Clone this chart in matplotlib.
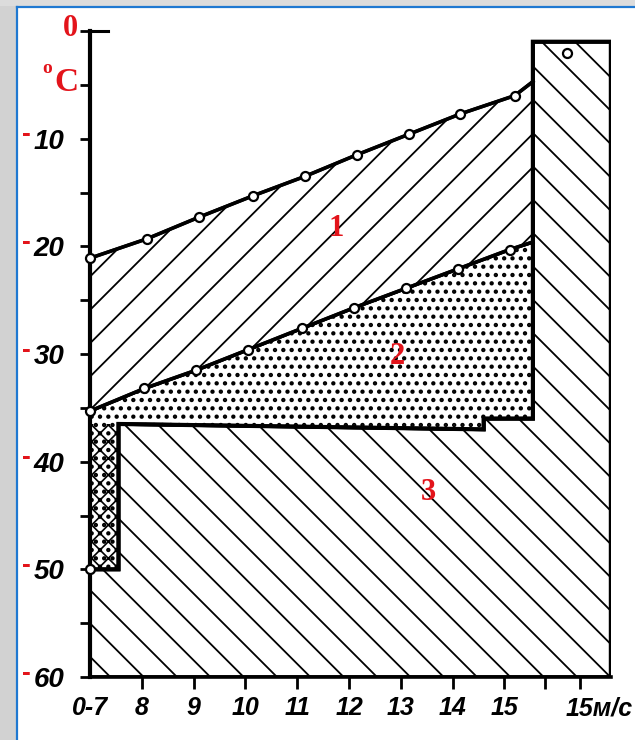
import matplotlib
matplotlib.use("Agg")
import matplotlib.pyplot as plt
import matplotlib.transforms as mtransforms
from matplotlib.patches import Rectangle, Polygon
from matplotlib.lines import Line2D
import numpy as np

# ---------------- data ----------------
# upper boundary (line 1) : wind speed (m/s) vs temperature (deg C)
curve1_x = [7.0, 8.1, 9.1, 10.15, 11.15, 12.15, 13.15, 14.15, 15.2]
curve1_y = [-21.1, -19.3, -17.3, -15.3, -13.5, -11.5, -9.6, -7.7, -6.0]
curve1_end = (15.55, -4.7)

# lower boundary (line 2)
curve2_x = [7.0, 8.05, 9.05, 10.05, 11.1, 12.1, 13.1, 14.1, 15.1]
curve2_y = [-35.3, -33.2, -31.5, -29.6, -27.6, -25.7, -23.9, -22.1, -20.3]
curve2_end = (15.55, -19.6)

# zone 3 outline
zone3_x = [7.0, 7.0, 7.55, 7.55, 14.6, 14.6, 15.55, 15.55, 17.05, 17.05]
zone3_y = [-60.0, -50.0, -50.0, -36.5, -37.0, -36.0, -36.0, -1.0, -1.0, -60.0]

# single marked points
extra_x = [7.0, 16.2]
extra_y = [-50.0, -2.0]

# axis ticks / labels
y_major = [0, -10, -20, -30, -40, -50, -60]
y_minor = [-5, -15, -25, -35, -45, -55]
y_labels = ["", "10", "20", "30", "40", "50", "60"]
x_ticks = [8, 9, 10, 11, 12, 13, 14, 15, 15.78, 16.46]
x_labels = ["8", "9", "10", "11", "12", "13", "14", "15", "", ""]
first_label = "0-7"
last_label = "15м/с"
zone_labels = ["1", "2", "3"]
zone_label_x = [11.75, 12.93, 13.54]
zone_label_y = [-18.3, -30.2, -42.9]

RED = "#e3141b"
NUM_FONT = dict(family=["Liberation Sans Narrow", "Liberation Sans", "DejaVu Sans"],
                style="italic", weight="bold")
SERIF_RED = dict(family=["Liberation Serif", "DejaVu Serif"], weight="bold", color=RED)

W, H = 635, 740
fig = plt.figure(figsize=(W / 100, H / 100), dpi=100)
fig.patch.set_facecolor("white")

# outer frame (grey strips + blue border)
fig.patches.append(Rectangle((0, 0), 16 / W, 1, transform=fig.transFigure,
                             facecolor="#d2d2d2", edgecolor="none", zorder=0))
fig.patches.append(Rectangle((0, 1 - 6 / H), 1, 6 / H, transform=fig.transFigure,
                             facecolor="#dcdcdc", edgecolor="none", zorder=0))
fig.lines.append(Line2D([17 / W, 17 / W], [0, 1 - 7 / H], transform=fig.transFigure,
                        color="#1f78d1", lw=1.6))
fig.lines.append(Line2D([17 / W, 1], [1 - 7 / H, 1 - 7 / H], transform=fig.transFigure,
                        color="#1f78d1", lw=1.6))

px_per_unit = 51.8
left_px, top_px, bottom_px = 90, 31, 677
ax = fig.add_axes([left_px / W, 1 - bottom_px / H,
                   (17.05 - 7.0) * px_per_unit / W, (bottom_px - top_px) / H])
ax.set_xlim(7.0, 17.05)
ax.set_ylim(-60, 0)
ax.patch.set_alpha(0)

# ---------------- regions ----------------
c1x = list(curve1_x) + [curve1_end[0]]
c1y = list(curve1_y) + [curve1_end[1]]
c2x = list(curve2_x) + [curve2_end[0]]
c2y = list(curve2_y) + [curve2_end[1]]

# zone 3
with plt.rc_context({"hatch.linewidth": 1.3}):
    p3 = Polygon(np.column_stack([zone3_x, zone3_y]), closed=True,
                 facecolor="white", edgecolor="black", hatch="\\", lw=2.6, zorder=2)
    ax.add_patch(p3)

# zone 2 (dotted): between line 2 and top of zone 3
z2x = c2x + zone3_x[6:1:-1] + [zone3_x[1]]
z2y = c2y + zone3_y[6:1:-1] + [zone3_y[1]]
with plt.rc_context({"hatch.linewidth": 1.9}):
    p2 = Polygon(np.column_stack([z2x, z2y]), closed=True,
                 facecolor="white", edgecolor="black", hatch="..", lw=2.6, zorder=3)
    ax.add_patch(p2)

# narrow strip along the axis (cross pattern)
sx = [zone3_x[1], zone3_x[3], zone3_x[2], zone3_x[1]]
sy = [zone3_y[3], zone3_y[3], zone3_y[2], zone3_y[1]]
with plt.rc_context({"hatch.linewidth": 1.2}):
    ps = Polygon(np.column_stack([sx, sy]), closed=True,
                 facecolor="none", edgecolor="black", hatch="xx", lw=0, zorder=4)
    ax.add_patch(ps)

# zone 1 (hatched /): between line 1 and line 2
z1x = c1x + c2x[::-1]
z1y = c1y + c2y[::-1]
with plt.rc_context({"hatch.linewidth": 1.3}):
    p1 = Polygon(np.column_stack([z1x, z1y]), closed=True,
                 facecolor="white", edgecolor="black", hatch="/", lw=2.4, zorder=3)
    ax.add_patch(p1)

# outline of zone 3 again, on top
ax.plot(zone3_x[1:9], zone3_y[1:9], color="black", lw=3.0, zorder=5,
        solid_joinstyle="miter")

# lines with points
ax.plot(c1x, c1y, color="black", lw=2.6, zorder=6)
ax.plot(c2x, c2y, color="black", lw=2.6, zorder=6)
mk = dict(ls="none", marker="o", ms=6.5, mfc="white", mec="black", mew=1.6, zorder=7,
          clip_on=False)
ax.plot(curve1_x, curve1_y, **mk)
ax.plot(curve2_x, curve2_y, **mk)
ax.plot(extra_x, extra_y, **mk)

# zone numbers
for t, x, y in zip(zone_labels, zone_label_x, zone_label_y):
    ax.text(x, y, t, ha="center", va="center", fontsize=22, zorder=8, **SERIF_RED)

# ---------------- axes styling ----------------
for s in ("top", "right"):
    ax.spines[s].set_visible(False)
ax.spines["left"].set_linewidth(3.0)
ax.spines["bottom"].set_linewidth(2.6)
ax.spines["left"].set_zorder(6)
ax.spines["bottom"].set_zorder(6)

ax.set_yticks(y_major)
ax.set_yticks(y_minor, minor=True)
ax.set_yticklabels(y_labels, fontsize=20, **NUM_FONT)
ax.tick_params(axis="y", which="both", direction="out", length=7.5, width=2.0, pad=11)
ax.set_xticks(x_ticks)
ax.set_xticklabels(x_labels, fontsize=18, **NUM_FONT)
ax.tick_params(axis="x", which="both", direction="out", length=8.5, width=2.0, pad=5)

# T mark at the top of the temperature axis
ax.axhline(0, xmin=0, xmax=0.035, color="black", lw=2.2, clip_on=False)

tx = mtransforms.blended_transform_factory(ax.transAxes, ax.transData)
# red minus signs before the temperature numbers
for v in y_major[1:]:
    ax.text(-0.123, v + 0.4, "-", transform=tx, ha="center", va="center",
            fontsize=19, fontweight="bold", color=RED,
            family=["Liberation Sans", "DejaVu Sans"])
# red "0" and "oC"
ax.text(-0.024, 0.2, "0", transform=tx, ha="right", va="center", fontsize=22, **SERIF_RED)
ax.text(-0.022, -4.8, "C", transform=tx, ha="right", va="center", fontsize=24, **SERIF_RED)
ax.text(-0.082, -3.5, "o", transform=tx, ha="center", va="center", fontsize=14, **SERIF_RED)

# first / last x labels
bx = mtransforms.offset_copy(ax.get_xaxis_transform(), fig=fig, x=0, y=-19, units="dots")
ax.text(7.0, 0, first_label, transform=bx, ha="center", va="top", fontsize=18, **NUM_FONT)
ax.text(16.19, 0, last_label, transform=bx, ha="left", va="top", fontsize=18, **NUM_FONT)

fig.savefig("out.png", dpi=100)
